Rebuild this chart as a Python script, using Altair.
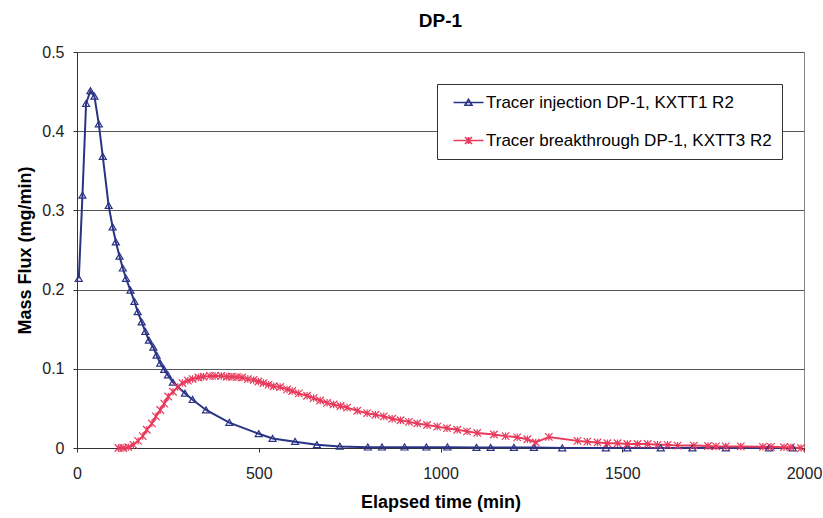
import altair as alt
import pandas as pd

# ---- data ----
series_names = ["Tracer injection DP-1, KXTT1 R2", "Tracer breakthrough DP-1, KXTT3 R2"]
series_colors = ["#2a3384", "#e83a5c"]

inj_t = [5, 15, 25, 37, 48, 60, 71, 87, 98, 107, 117, 126, 135, 147, 158, 167, 178, 188, 198, 210,
         219, 229, 240, 250, 264, 297, 318, 355, 419, 500, 538, 600, 660, 723, 800, 839, 901, 961,
         1019, 1099, 1138, 1202, 1257, 1335, 1455, 1514, 1606, 1693, 1785, 1904, 1969]
inj_v = [0.214, 0.319, 0.435, 0.451, 0.444, 0.409, 0.368, 0.306, 0.279, 0.260, 0.242, 0.227, 0.214,
         0.199, 0.185, 0.172, 0.159, 0.147, 0.136, 0.127, 0.117, 0.107, 0.099, 0.092, 0.083, 0.069,
         0.061, 0.048, 0.032, 0.018, 0.012, 0.008, 0.004, 0.002, 0.001, 0.001, 0.001, 0.001, 0.001,
         0.0005, 0.0005, 0.0005, 0.0005, 0.0, 0.0, 0.0, 0.0, 0.0, 0.0, 0.0, 0.0]

brk_t = [114, 127, 141, 155, 168, 181, 192, 206, 217, 229, 240, 251, 264, 277, 290, 305, 318, 334,
         348, 366, 380, 397, 412, 426, 440, 454, 470, 486, 499, 513, 527, 541, 559, 578, 592, 610,
         633, 651, 669, 688, 706, 725, 743, 771, 798, 821, 844, 867, 890, 913, 936, 963, 991, 1018,
         1046, 1073, 1101, 1147, 1179, 1211, 1239, 1262, 1298, 1377, 1404, 1432, 1459, 1487, 1514,
         1542, 1570, 1597, 1625, 1652, 1697, 1736, 1758, 1785, 1826, 1887, 1909, 1945, 1964, 1992]
brk_v = [0.0, 0.0, 0.001, 0.004, 0.009, 0.015, 0.023, 0.031, 0.040, 0.048, 0.056, 0.065, 0.071,
         0.077, 0.082, 0.085, 0.087, 0.089, 0.090, 0.091, 0.091, 0.091, 0.090, 0.090, 0.0895, 0.089,
         0.087, 0.086, 0.084, 0.082, 0.080, 0.078, 0.077, 0.074, 0.072, 0.069, 0.066, 0.063, 0.060,
         0.057, 0.055, 0.053, 0.051, 0.047, 0.044, 0.042, 0.040, 0.037, 0.035, 0.033, 0.031, 0.029,
         0.027, 0.025, 0.023, 0.021, 0.019, 0.017, 0.015, 0.0135, 0.011, 0.007, 0.014, 0.009, 0.008,
         0.007, 0.006, 0.006, 0.005, 0.005, 0.005, 0.004, 0.004, 0.003, 0.003, 0.0025, 0.002, 0.002,
         0.002, 0.0015, 0.0015, 0.001, 0.001, 0.0]

x_ticks = [0, 500, 1000, 1500, 2000]
y_ticks = [0, 0.1, 0.2, 0.3, 0.4, 0.5]

df = pd.concat([
    pd.DataFrame({"t": inj_t, "v": inj_v, "s": series_names[0]}),
    pd.DataFrame({"t": brk_t, "v": brk_v, "s": series_names[1]}),
], ignore_index=True)

FONT = "Liberation Sans"

# marker shapes (custom symbol paths)
tri_path = "M-1,0.8L0,-0.9L1,0.8Z"
star_path = "M-1,-1L1,1M-1,1L1,-1M0,-1L0,1"
leg_tri = "M-3,0L3,0M-0.7,0.55L0,-0.65L0.7,0.55Z"
leg_star = "M-3,0L3,0M-0.7,-0.7L0.7,0.7M-0.7,0.7L0.7,-0.7M0,-0.7L0,0.7"

x_enc = alt.X("t:Q", scale=alt.Scale(domain=[0, 2000], nice=False),
              axis=alt.Axis(values=x_ticks, format="d", grid=False, title="Elapsed time (min)",
                            tickSize=4, labelPadding=13, titlePadding=12, labelFlush=False))
y_enc = alt.Y("v:Q", scale=alt.Scale(domain=[0, 0.5], nice=False),
              axis=alt.Axis(values=y_ticks, format="~g", grid=True, title="Mass Flux (mg/min)",
                            tickSize=4, labelPadding=9, titlePadding=7, labelFlush=False))

base = alt.Chart(df).encode(x=x_enc, y=y_enc)

inj = base.transform_filter(alt.datum.s == series_names[0])
brk = base.transform_filter(alt.datum.s == series_names[1])

line_inj = inj.mark_line(color=series_colors[0], strokeWidth=2)
line_brk = brk.mark_line(color=series_colors[1], strokeWidth=2)
pts_inj = inj.mark_point(shape=tri_path, size=49, color=series_colors[0], filled=False,
                         strokeWidth=1.2, opacity=1)
pts_brk = brk.mark_point(shape=star_path, size=56, color=series_colors[1], filled=False,
                         strokeWidth=1.2, opacity=1)

leg = alt.Legend(title=None, orient="none", legendX=360, legendY=32, strokeColor="#333",
                 fillColor="white", padding=10, rowPadding=20, symbolSize=100,
                 symbolStrokeWidth=1.6, symbolOffset=13, labelOffset=9, labelFontSize=17,
                 labelFont=FONT, labelColor="black", labelLimit=400, symbolOpacity=1)

legend_layer = base.transform_filter("false").mark_point(filled=False, opacity=1).encode(
    color=alt.Color("s:N", scale=alt.Scale(domain=series_names, range=series_colors), legend=leg),
    shape=alt.Shape("s:N", scale=alt.Scale(domain=series_names, range=[leg_tri, leg_star]), legend=leg),
)

chart = alt.layer(line_inj, line_brk, pts_inj, pts_brk, legend_layer).properties(
    width=727, height=396,
    padding={"left": 77, "top": 52, "right": 19, "bottom": 70},
    autosize=alt.AutoSizeParams(type="none"),
    background="white",
    title=alt.TitleParams("DP-1", font=FONT, fontSize=19, fontWeight="bold", anchor="middle",
                          color="black", offset=13),
).configure_view(stroke="#888", strokeWidth=1).configure_axis(
    labelFont=FONT, labelFontSize=16, labelColor="#222",
    titleFont=FONT, titleFontSize=18, titleFontWeight="bold", titleColor="black",
    domainColor="#333", tickColor="#333", gridColor="#555", gridWidth=1,
)

chart.save("out.html", embed_options={"renderer": "svg", "actions": False})
